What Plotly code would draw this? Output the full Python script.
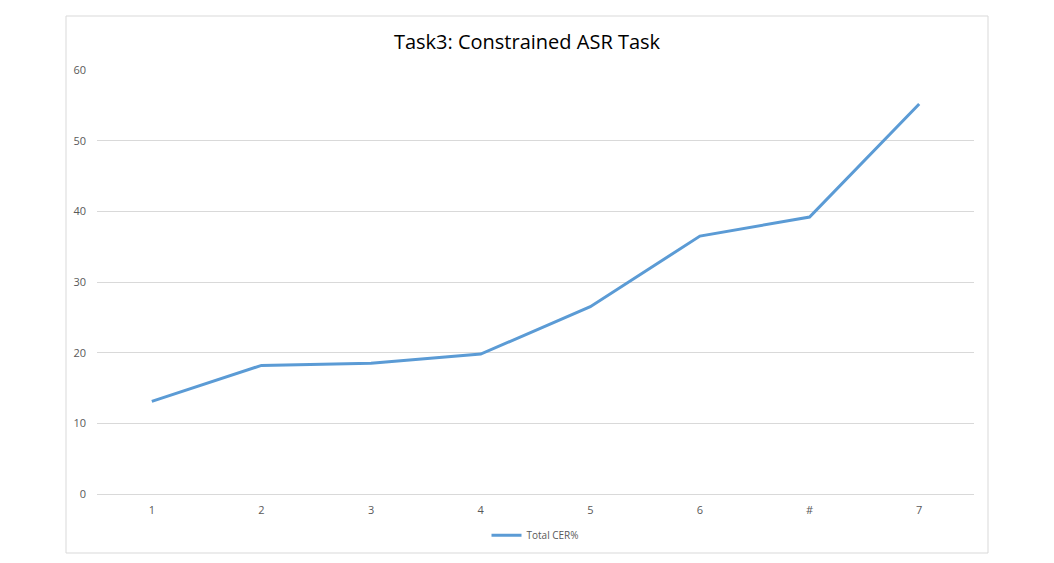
import plotly.graph_objects as go

categories = ["1", "2", "3", "4", "5", "6", "#", "7"]
total_cer = [13.1, 18.2, 18.5, 19.8, 26.5, 36.5, 39.2, 55.2]

fig = go.Figure()
fig.add_trace(go.Scatter(x=categories, y=total_cer, mode="lines", name="Total CER%",
                         line=dict(color="#5b9bd5", width=3)))

# plot area: x 97..974, y 70..494 px
fig.update_layout(
    width=1054, height=563,
    margin=dict(l=97, r=80, t=70, b=69),
    paper_bgcolor="white", plot_bgcolor="white",
    font=dict(family="Open Sans", color="#595959", size=11),
    title=dict(text="Task3: Constrained ASR Task", x=0.5, xanchor="center",
               y=1 - 42 / 563, yanchor="middle",
               font=dict(family="Open Sans", size=20, color="#000000")),
    showlegend=True,
    legend=dict(orientation="h", x=0.5, xanchor="center", y=-0.097, yanchor="middle",
                font=dict(size=10, color="#595959")),
    xaxis=dict(type="category", range=[-0.5, 7.5], showgrid=False, showline=False,
               zeroline=False, ticks="", ticklabelstandoff=8),
    yaxis=dict(range=[0, 60], dtick=10, showgrid=True, gridcolor="#d9d9d9", gridwidth=1,
               zeroline=True, zerolinecolor="#d9d9d9", zerolinewidth=1,
               showline=False, ticks="", ticklabelstandoff=10),
)

# outer chart border
fig.add_shape(type="rect", xref="paper", yref="paper",
              x0=(66 - 97) / 877, x1=(988 - 97) / 877,
              y0=(494 - 553) / 424, y1=(494 - 16) / 424,
              line=dict(color="#d9d9d9", width=1), layer="below")

# drop the default body margin so the figure sits at the window origin
fig.write_html("out.html", config={"displayModeBar": False},
               post_script="document.body.style.margin='0';")
